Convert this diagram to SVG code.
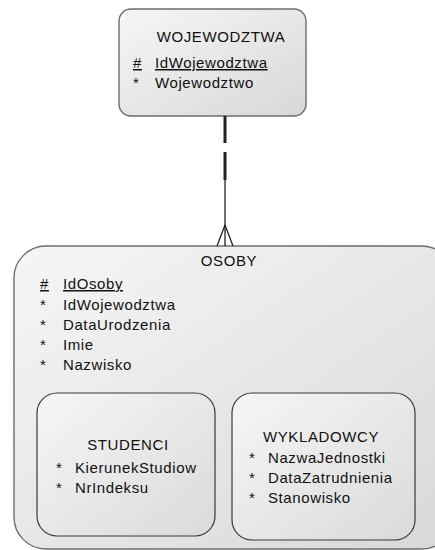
<svg xmlns="http://www.w3.org/2000/svg" width="435" height="550" viewBox="0 0 435 550">
  <defs>
    <linearGradient id="boxFill" x1="0" y1="0" x2="1" y2="1">
      <stop offset="0" stop-color="#f6f6f6"/>
      <stop offset="1" stop-color="#d8d8d8"/>
    </linearGradient>
    <linearGradient id="innerFill" x1="0" y1="0" x2="1" y2="1">
      <stop offset="0" stop-color="#f6f6f6"/>
      <stop offset="1" stop-color="#dadada"/>
    </linearGradient>
  </defs>
  <style>
    .entity { fill: url(#boxFill); stroke: #6e6e6e; stroke-width: 1.4; }
    .sub { fill: url(#innerFill); stroke: #3a3a3a; stroke-width: 1.2; }
    text { font-family: "Liberation Sans", Arial, sans-serif; font-size: 15px; fill: #111; letter-spacing: 0.6px; }
    .title { text-anchor: middle; }
    .pk { text-decoration: underline; }
    .rel { stroke: #222; fill: none; }
  </style>

  <rect x="0" y="0" width="435" height="550" fill="#ffffff"/>

  <!-- parent table -->
  <g id="wojewodztwa">
    <rect class="entity" x="119" y="9" width="187" height="107" rx="12"/>
    <text class="title" x="221" y="42">WOJEWODZTWA</text>
    <text class="pk" x="133" y="68">#</text>
    <text class="pk" x="155" y="68">IdWojewodztwa</text>
    <text x="133" y="88">*</text>
    <text x="155" y="88">Wojewodztwo</text>
  </g>

  <!-- supertype with its subtypes -->
  <g id="osoby">
    <rect class="entity" x="14" y="246" width="440" height="303" rx="32"/>
    <text class="title" x="229" y="266">OSOBY</text>
    <text class="pk" x="40" y="289">#</text>
    <text class="pk" x="63" y="289">IdOsoby</text>
    <text x="40" y="310">*</text>
    <text x="63" y="310">IdWojewodztwa</text>
    <text x="40" y="330">*</text>
    <text x="63" y="330">DataUrodzenia</text>
    <text x="40" y="350">*</text>
    <text x="63" y="350">Imie</text>
    <text x="40" y="370">*</text>
    <text x="63" y="370">Nazwisko</text>
  </g>

  <g id="studenci">
    <rect class="sub" x="37" y="393" width="178" height="143" rx="20"/>
    <text class="title" x="128" y="450">STUDENCI</text>
    <text x="56" y="473">*</text>
    <text x="75" y="473">KierunekStudiow</text>
    <text x="56" y="493">*</text>
    <text x="75" y="493">NrIndeksu</text>
  </g>

  <g id="wykladowcy">
    <rect class="sub" x="232" y="393" width="183" height="147" rx="20"/>
    <text class="title" x="321" y="442">WYKLADOWCY</text>
    <text x="249" y="463">*</text>
    <text x="268" y="463">NazwaJednostki</text>
    <text x="249" y="483">*</text>
    <text x="268" y="483">DataZatrudnienia</text>
    <text x="249" y="503">*</text>
    <text x="268" y="503">Stanowisko</text>
  </g>

  <!-- one-to-many relationship, optional on the parent side -->
  <g id="connectors">
    <line class="rel" x1="225" y1="116" x2="225" y2="143" stroke-width="3"/>
    <line class="rel" x1="225" y1="152" x2="225" y2="180" stroke-width="3"/>
    <line class="rel" x1="225" y1="180" x2="225" y2="246" stroke-width="1.3"/>
    <path class="rel" d="M225 225 L217 246 M225 225 L233 246" stroke-width="1.3"/>
  </g>
</svg>
